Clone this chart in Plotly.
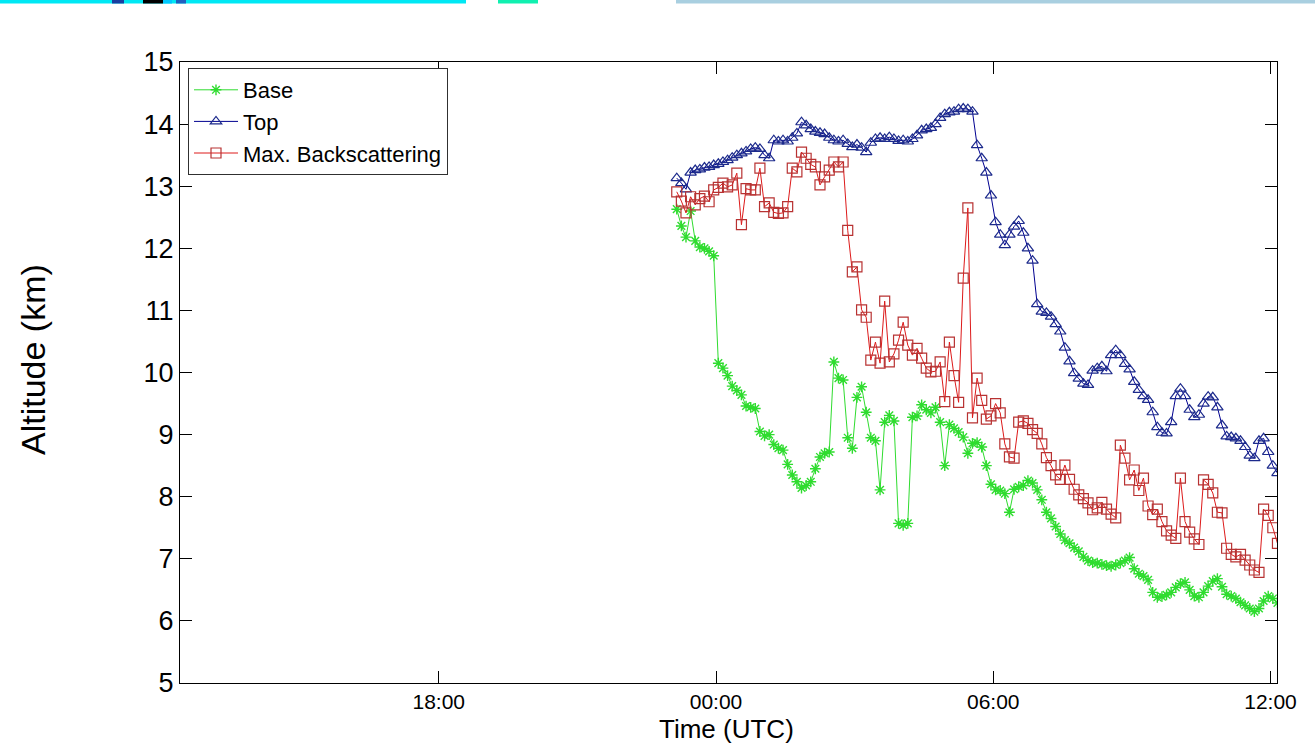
import plotly.graph_objects as go

# Sampling: one lidar profile every 6 minutes, hours relative to 00:00 UTC
T_START_H = -0.85
STEP_MIN = 6

# Cloud base altitude (km)
base_km = [
    12.63, 12.36, 12.18, 12.60, 12.12, 12.02, 12.00, 11.95, 11.88, 10.15,
    10.07, 9.95, 9.78, 9.71, 9.64, 9.46, 9.44, 9.42, 9.05, 8.98,
    9.00, 8.84, 8.78, 8.75, 8.52, 8.35, 8.24, 8.14, 8.18, 8.24,
    8.45, 8.64, 8.70, 8.72, 10.17, 9.91, 9.88, 8.95, 8.78, 9.60,
    9.77, 9.36, 8.95, 8.90, 8.11, 9.20, 9.31, 9.22, 7.57, 7.54,
    7.57, 9.28, 9.30, 9.48, 9.40, 9.35, 9.44, 9.20, 8.50, 9.16,
    9.10, 9.04, 8.96, 8.70, 8.86, 8.87, 8.80, 8.50, 8.20, 8.11,
    8.10, 8.05, 7.75, 8.12, 8.16, 8.18, 8.26, 8.22, 8.11, 7.95,
    7.75, 7.65, 7.52, 7.40, 7.30, 7.25, 7.18, 7.12, 7.03, 6.97,
    6.94, 6.93, 6.91, 6.89, 6.88, 6.90, 6.93, 6.97, 7.02, 6.84,
    6.76, 6.72, 6.66, 6.46, 6.38, 6.39, 6.42, 6.46, 6.54, 6.60,
    6.62, 6.50, 6.40, 6.38, 6.46, 6.56, 6.64, 6.68, 6.55, 6.43,
    6.40, 6.36, 6.30, 6.25, 6.20, 6.15, 6.20, 6.32, 6.40, 6.36,
    6.29,
]

# Cloud top altitude (km)
top_km = [
    13.13, 13.05, 12.95, 13.22, 13.26, 13.27, 13.30, 13.31, 13.34, 13.36,
    13.39, 13.42, 13.46, 13.50, 13.53, 13.56, 13.60, 13.62, 13.60, 13.50,
    13.45, 13.74, 13.72, 13.74, 13.72, 13.78, 13.85, 14.03, 13.98, 13.92,
    13.88, 13.86, 13.84, 13.78, 13.74, 13.72, 13.74, 13.68, 13.63, 13.67,
    13.62, 13.55, 13.70, 13.76, 13.78, 13.76, 13.79, 13.76, 13.73, 13.74,
    13.72, 13.76, 13.82, 13.90, 13.92, 13.94, 14.00, 14.10, 14.16, 14.19,
    14.20, 14.24, 14.25, 14.24, 14.20, 13.66, 13.45, 13.22, 12.85, 12.42,
    12.22, 12.05, 12.22, 12.35, 12.44, 12.25, 12.00, 11.80, 11.10, 10.98,
    10.96, 10.90, 10.78, 10.66, 10.40, 10.18, 9.99, 9.90, 9.82, 9.80,
    10.03, 10.07, 10.10, 10.02, 10.28, 10.36, 10.28, 10.14, 10.05, 9.85,
    9.72, 9.62, 9.56, 9.36, 9.12, 9.03, 9.02, 9.20, 9.62, 9.74,
    9.62, 9.40, 9.28, 9.32, 9.50, 9.61, 9.60, 9.44, 9.15, 8.97,
    8.96, 8.94, 8.90, 8.80, 8.66, 8.62, 8.90, 8.94, 8.72, 8.50,
    8.38,
]

# Altitude of maximum backscattering (km)
maxbs_km = [
    12.91, 12.76, 12.57, 12.83, 12.70, 12.80, 12.84, 12.75, 12.94, 12.98,
    13.05, 12.99, 13.02, 13.21, 12.38, 12.96, 12.94, 12.94, 13.29, 12.67,
    12.73, 12.58, 12.56, 12.57, 12.67, 13.29, 13.23, 13.55, 13.45, 13.35,
    13.31, 13.02, 13.15, 13.26, 13.39, 13.31, 13.39, 12.29, 11.62, 11.70,
    11.01, 10.89, 10.20, 10.49, 10.15, 11.15, 10.17, 10.30, 10.52, 10.81,
    10.44, 10.28, 10.39, 10.23, 10.07, 10.01, 10.02, 10.17, 9.53, 10.49,
    9.95, 9.52, 11.52, 12.65, 9.27, 9.91, 9.55, 9.25, 9.30, 9.50,
    9.35, 8.85, 8.64, 8.62, 9.20, 9.22, 9.18, 9.08, 9.02, 8.85,
    8.63, 8.50, 8.35, 8.28, 8.51, 8.28, 8.12, 8.03, 7.97, 7.90,
    7.79, 7.82, 7.91, 7.80, 7.72, 7.66, 8.83, 8.62, 8.27, 8.43,
    8.10, 8.30, 7.85, 7.71, 7.80, 7.60, 7.45, 7.38, 7.33, 8.30,
    7.60, 7.43, 7.32, 7.23, 8.27, 8.20, 8.06, 7.75, 7.74, 7.17,
    7.07, 7.03, 7.07, 6.98, 6.90, 6.82, 6.78, 7.80, 7.70, 7.50,
    7.25,
]

x_tick_vals = [-6, 0, 6, 12]
x_tick_text = ["18:00", "00:00", "06:00", "12:00"]
y_tick_vals = [5, 6, 7, 8, 9, 10, 11, 12, 13, 14, 15]

hours = [T_START_H + k * STEP_MIN / 60.0 for k in range(len(base_km))]

W, H = 1315, 745
ML, MR, MT, MB = 180, 38, 62, 62
PW, PH = W - ML - MR, H - MT - MB
FONT = "Liberation Sans, Arial, sans-serif"


def px_x(px):
    return (px - ML) / PW


def px_y(py):
    return 1 - (py - MT) / PH


fig = go.Figure()
fig.add_trace(go.Scatter(
    x=hours, y=base_km, name="Base", mode="lines+markers",
    line=dict(color="#2fdc2f", width=1),
    marker=dict(symbol="asterisk-open", size=9,
                line=dict(color="#22ee22", width=1.4)),
))
fig.add_trace(go.Scatter(
    x=hours, y=top_km, name="Top", mode="lines+markers",
    line=dict(color="#000090", width=1),
    marker=dict(symbol="triangle-up-open", size=10, color="#1c2a8c",
                line=dict(color="#1c2a8c", width=1.2)),
))
fig.add_trace(go.Scatter(
    x=hours, y=maxbs_km, name="Max. Backscattering", mode="lines+markers",
    line=dict(color="#dd1a1a", width=1),
    marker=dict(symbol="square-open", size=10, color="#b83232",
                line=dict(color="#b83232", width=1.2)),
))

axis_common = dict(
    showline=True, linecolor="black", linewidth=1, mirror="ticks",
    ticks="inside", ticklen=12, tickcolor="black", tickwidth=1,
    showgrid=False, zeroline=False,
)

fig.update_xaxes(
    range=[-11.60, 12.14], tickvals=x_tick_vals, ticktext=x_tick_text,
    tickfont=dict(family=FONT, size=21, color="black"), **axis_common,
)
fig.update_yaxes(
    range=[5, 15], tickvals=y_tick_vals,
    tickfont=dict(family=FONT, size=27, color="black"), **axis_common,
)

# strip of colour along the very top edge of the canvas
top_y0, top_y1 = px_y(3.5), px_y(0)
strip = [
    (0, 466, "#00e8f4"),
    (112, 124, "#1a3fa0"),
    (143, 163, "#000000"),
    (163, 172, "#00c8ff"),
    (176, 186, "#2060c0"),
    (498, 538, "#10f0b0"),
    (676, 1315, "#a9cfe0"),
]
shapes = []
for x0, x1, col in strip:
    shapes.append(dict(type="rect", xref="paper", yref="paper",
                       x0=px_x(x0), x1=px_x(x1), y0=top_y0, y1=top_y1,
                       fillcolor=col, line=dict(width=0), layer="above"))

fig.update_layout(
    width=W, height=H,
    margin=dict(l=ML, r=MR, t=MT, b=MB, pad=0),
    paper_bgcolor="white", plot_bgcolor="white",
    font=dict(family=FONT, color="black"),
    showlegend=True,
    legend=dict(
        x=px_x(188), y=px_y(68), xanchor="left", yanchor="top",
        bgcolor="white", bordercolor="#303030", borderwidth=1,
        font=dict(family=FONT, size=22, color="black"),
        itemwidth=44, tracegroupgap=0,
    ),
    shapes=shapes,
    annotations=[
        dict(text="Altitude (km)", xref="paper", yref="paper",
             x=px_x(33), y=px_y(360), xanchor="center", yanchor="middle",
             textangle=-90, showarrow=False,
             font=dict(family=FONT, size=34, color="black")),
        dict(text="Time (UTC)", xref="paper", yref="paper",
             x=px_x(726), y=px_y(729), xanchor="center", yanchor="middle",
             showarrow=False,
             font=dict(family=FONT, size=26, color="black")),
    ],
)

fig.write_html("out.html")
